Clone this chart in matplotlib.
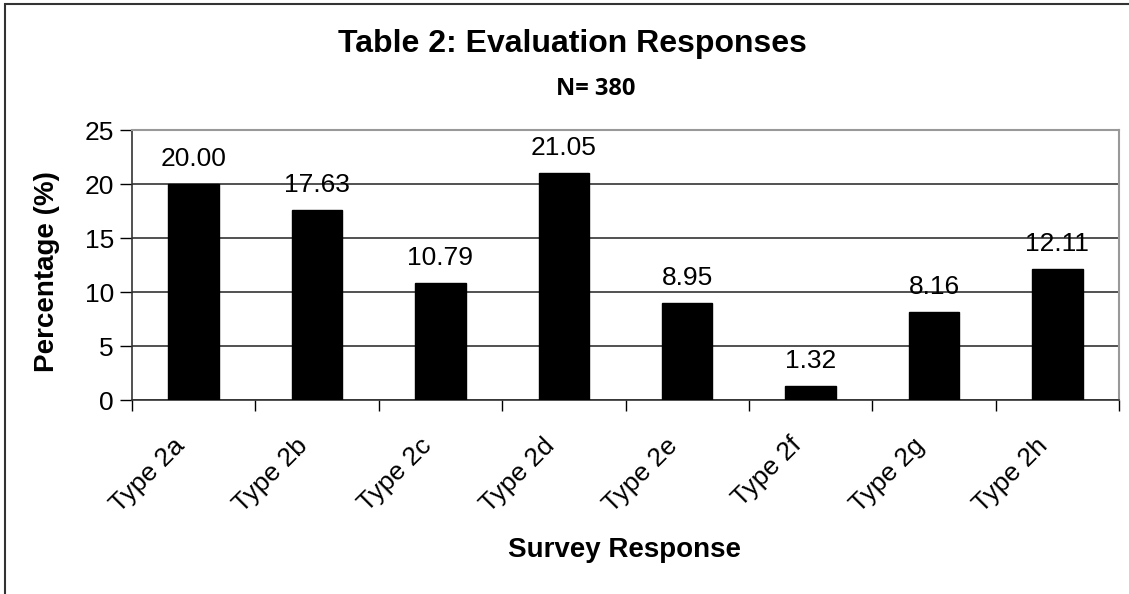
import matplotlib
matplotlib.use("Agg")
import matplotlib.pyplot as plt
import matplotlib.transforms as mtransforms
from matplotlib.patches import Rectangle

categories = ["Type 2a", "Type 2b", "Type 2c", "Type 2d", "Type 2e", "Type 2f", "Type 2g", "Type 2h"]
values = [20.00, 17.63, 10.79, 21.05, 8.95, 1.32, 8.16, 12.11]
value_labels = ["20.00", "17.63", "10.79", "21.05", "8.95", "1.32", "8.16", "12.11"]
yticks = [0, 5, 10, 15, 20, 25]

plt.rcParams['font.family'] = ['Liberation Sans', 'DejaVu Sans']

W, H = 1129, 594
fig = plt.figure(figsize=(W/100, H/100), dpi=100)
fig.patch.set_facecolor('white')

# outer chart border (left/top visible, rest cut off)
fig.add_artist(Rectangle((5/W, -0.05), 1.2, (H-4)/H + 0.05, transform=fig.transFigure,
                         fill=False, edgecolor='#333333', linewidth=1.5))

ax = fig.add_axes([132/W, (H-400)/H, (1119-132)/W, (400-130)/H])
x = list(range(len(categories)))
ax.bar(x, values, width=0.41, color='black', edgecolor='black', zorder=3)
ax.set_xlim(-0.5, len(categories) - 0.5)
ax.set_ylim(0, 25)
ax.set_yticks(yticks)
ax.set_yticklabels([str(t) for t in yticks], fontsize=19)
ax.tick_params(axis='y', direction='out', length=9, width=1, pad=4, colors='black')
ax.yaxis.grid(True, color='#333333', linewidth=1.2, zorder=1)

# x ticks at category boundaries, labels at centres
ax.set_xticks([i - 0.5 for i in range(len(categories) + 1)])
ax.set_xticklabels([])
ax.tick_params(axis='x', direction='out', length=8, width=1)
ax.set_xticks(x, minor=True)
ax.set_xticklabels(categories, minor=True, rotation=45, ha='right', va='center',
                   rotation_mode='anchor', fontsize=19)
ax.tick_params(axis='x', which='minor', length=0, pad=30)
shift = mtransforms.ScaledTranslation(-0.13, 0, fig.dpi_scale_trans)
for lbl in ax.get_xticklabels(minor=True):
    lbl.set_transform(lbl.get_transform() + shift)

for s in ['left', 'bottom']:
    ax.spines[s].set_color('#333333')
    ax.spines[s].set_linewidth(1.2)
for s in ['top', 'right']:
    ax.spines[s].set_color('#999999')
    ax.spines[s].set_linewidth(1.5)

for xi, v, lab in zip(x, values, value_labels):
    ax.annotate(lab, (xi, v), xytext=(0, 13), textcoords='offset points',
                ha='center', va='baseline', fontsize=19, zorder=4)

fig.text(572/W, 1 - 44/H, "Table 2: Evaluation Responses", ha='center', va='center',
         fontsize=23, fontweight='bold')
fig.text(596/W, 1 - 89/H, "N= 380", ha='center', va='center', fontsize=17,
         fontweight='bold', family=['Open Sans', 'DejaVu Sans'])
fig.text(624/W, 1 - 550/H, "Survey Response", ha='center', va='center',
         fontsize=20, fontweight='bold')
fig.text(47/W, 1 - 272/H, "Percentage (%)", ha='center', va='center',
         fontsize=20, fontweight='bold', rotation=90)

fig.savefig("out.png", dpi=100, facecolor='white')
